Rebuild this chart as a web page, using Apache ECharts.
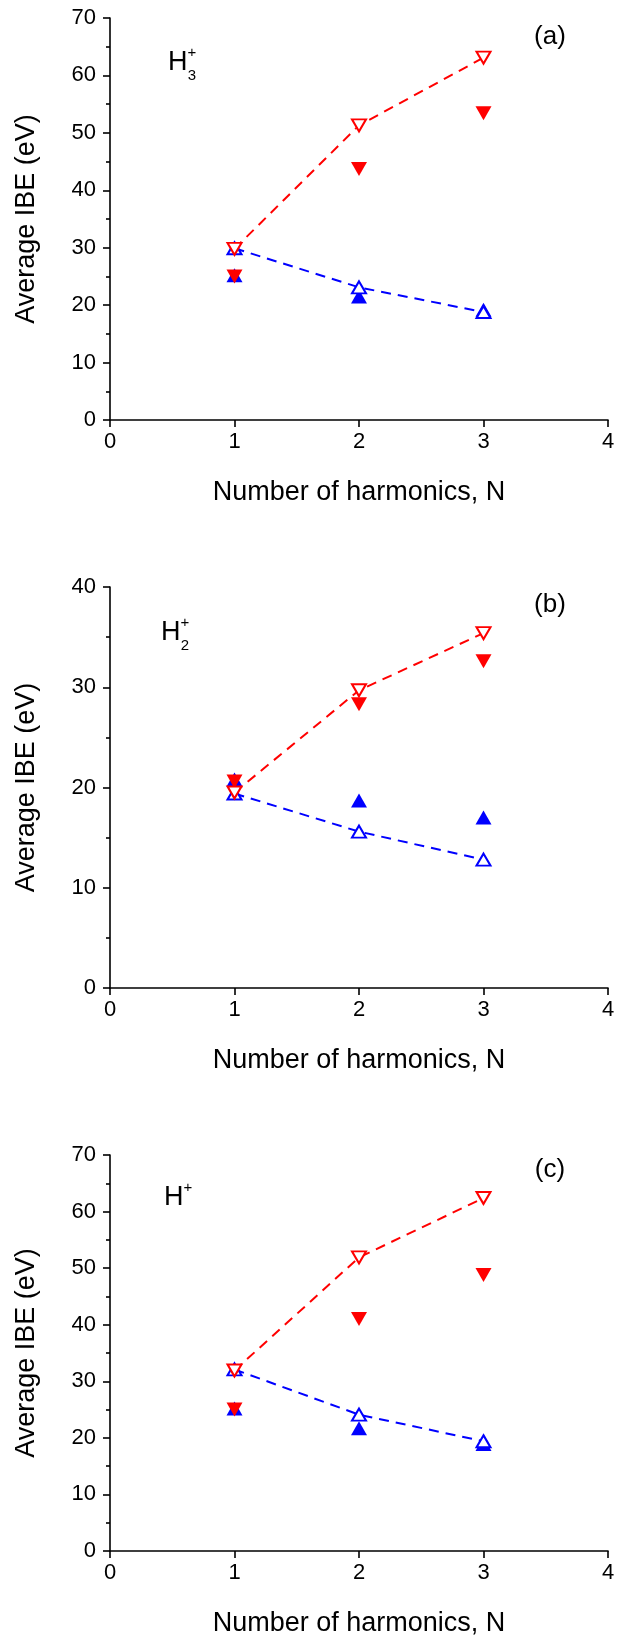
<!DOCTYPE html>
<html>
<head>
<meta charset="utf-8">
<script src="https://cdn.jsdelivr.net/npm/echarts@6/dist/echarts.min.js"></script>
<style>
  html, body { margin: 0; padding: 0; background: #fff; }
  #chart { width: 627px; height: 1638px; }
</style>
</head>
<body>
<div id="chart"></div>
<script>
// Number of harmonics on the x axis
const harmonics = [1, 2, 3];
const xTicks = [0, 1, 2, 3, 4];

// Panel (a): H3+
const aOpenRed = [29.8, 51.3, 63.1];
const aFilledRed = [25.0, 43.7, 53.4];
const aOpenBlue = [29.9, 23.1, 18.8];
const aFilledBlue = [25.2, 21.5, 19.2];

// Panel (b): H2+
const bOpenRed = [19.5, 29.7, 35.4];
const bFilledRed = [20.6, 28.3, 32.6];
const bOpenBlue = [19.4, 15.6, 12.8];
const bFilledBlue = [20.8, 18.7, 17.0];

// Panel (c): H+
const cOpenRed = [31.9, 51.9, 62.4];
const cFilledRed = [25.0, 41.0, 48.8];
const cOpenBlue = [32.1, 24.1, 19.4];
const cFilledBlue = [25.2, 21.7, 18.9];

// y-axis ranges per panel
const yMax = [70, 40, 70];

const FONT = '"Liberation Sans", Arial, Helvetica, sans-serif';
const RED = '#ff0000';
const BLUE = '#0000ff';

const panels = [
  { top: 18, height: 402, openRed: aOpenRed, filledRed: aFilledRed, openBlue: aOpenBlue, filledBlue: aFilledBlue },
  { top: 587, height: 401, openRed: bOpenRed, filledRed: bFilledRed, openBlue: bOpenBlue, filledBlue: bFilledBlue },
  { top: 1155, height: 396, openRed: cOpenRed, filledRed: cFilledRed, openBlue: cOpenBlue, filledBlue: cFilledBlue }
];

const pairs = arr => harmonics.map((n, i) => [n, arr[i]]);

const axisLineStyle = { color: '#000', width: 1.6 };

const grids = [], xAxes = [], yAxes = [], series = [];
panels.forEach((p, k) => {
  grids.push({ left: 110, width: 498, top: p.top, height: p.height, containLabel: false });
  xAxes.push({
    type: 'value', gridIndex: k, min: xTicks[0], max: xTicks[xTicks.length - 1], interval: 1,
    name: 'Number of harmonics, N', nameLocation: 'middle', nameGap: 59,
    nameTextStyle: { fontFamily: FONT, fontSize: 27, color: '#000' },
    axisLine: { show: true, onZero: false, lineStyle: axisLineStyle },
    axisTick: { show: true, length: 7, lineStyle: axisLineStyle },
    axisLabel: { fontFamily: FONT, fontSize: 22, color: '#000', margin: 11 },
    splitLine: { show: false }
  });
  yAxes.push({
    type: 'value', gridIndex: k, min: 0, max: yMax[k], interval: 10,
    name: 'Average IBE (eV)', nameLocation: 'middle', nameGap: 70, nameRotate: 90,
    nameTextStyle: { fontFamily: FONT, fontSize: 27, color: '#000' },
    axisLine: { show: true, onZero: false, lineStyle: axisLineStyle },
    axisTick: { show: true, length: 7, lineStyle: axisLineStyle },
    minorTick: { show: true, splitNumber: 2, length: 4, lineStyle: axisLineStyle },
    axisLabel: { fontFamily: FONT, fontSize: 22, color: '#000', margin: 14 },
    splitLine: { show: false }
  });

  const tri = [16, 14];
  const openTri = [14, 12];
  series.push({
    type: 'scatter', xAxisIndex: k, yAxisIndex: k, data: pairs(p.filledBlue),
    symbol: 'triangle', symbolSize: tri, itemStyle: { color: BLUE, opacity: 1 }, z: 2
  });
  series.push({
    type: 'scatter', xAxisIndex: k, yAxisIndex: k, data: pairs(p.filledRed),
    symbol: 'triangle', symbolSize: tri, symbolRotate: 180, itemStyle: { color: RED, opacity: 1 }, z: 3
  });
  series.push({
    type: 'line', xAxisIndex: k, yAxisIndex: k, data: pairs(p.openBlue),
    symbol: 'triangle', symbolSize: openTri, showAllSymbol: true,
    itemStyle: { color: '#fff', borderColor: BLUE, borderWidth: 2, opacity: 1 },
    lineStyle: { color: BLUE, width: 2, type: [10, 7] }, z: 4
  });
  series.push({
    type: 'line', xAxisIndex: k, yAxisIndex: k, data: pairs(p.openRed),
    symbol: 'triangle', symbolSize: openTri, symbolRotate: 180, showAllSymbol: true,
    itemStyle: { color: '#fff', borderColor: RED, borderWidth: 2, opacity: 1 },
    lineStyle: { color: RED, width: 2, type: [10, 7] }, z: 5
  });
});

// Panel labels and ion names
const txt = (text, x, y, size, align) => ({
  type: 'text', z: 10,
  style: { text, x, y, fill: '#000', font: size + 'px ' + FONT, align: align || 'left', verticalAlign: 'middle' }
});

const graphic = [
  txt('(a)', 550, 37, 26, 'center'),
  txt('H', 168, 63, 27), txt('+', 192, 53, 15, 'center'), txt('3', 192, 76, 15, 'center'),
  txt('(b)', 550, 605, 26, 'center'),
  txt('H', 161, 633, 27), txt('+', 185, 623, 15, 'center'), txt('2', 185, 646, 15, 'center'),
  txt('(c)', 550, 1170, 26, 'center'),
  txt('H', 164, 1198, 27), txt('+', 188, 1188, 15, 'center')
];

const chart = echarts.init(document.getElementById('chart'), null, { renderer: 'canvas' });
chart.setOption({
  animation: false,
  backgroundColor: '#fff',
  grid: grids,
  xAxis: xAxes,
  yAxis: yAxes,
  series: series,
  graphic: graphic
});
</script>
</body>
</html>
